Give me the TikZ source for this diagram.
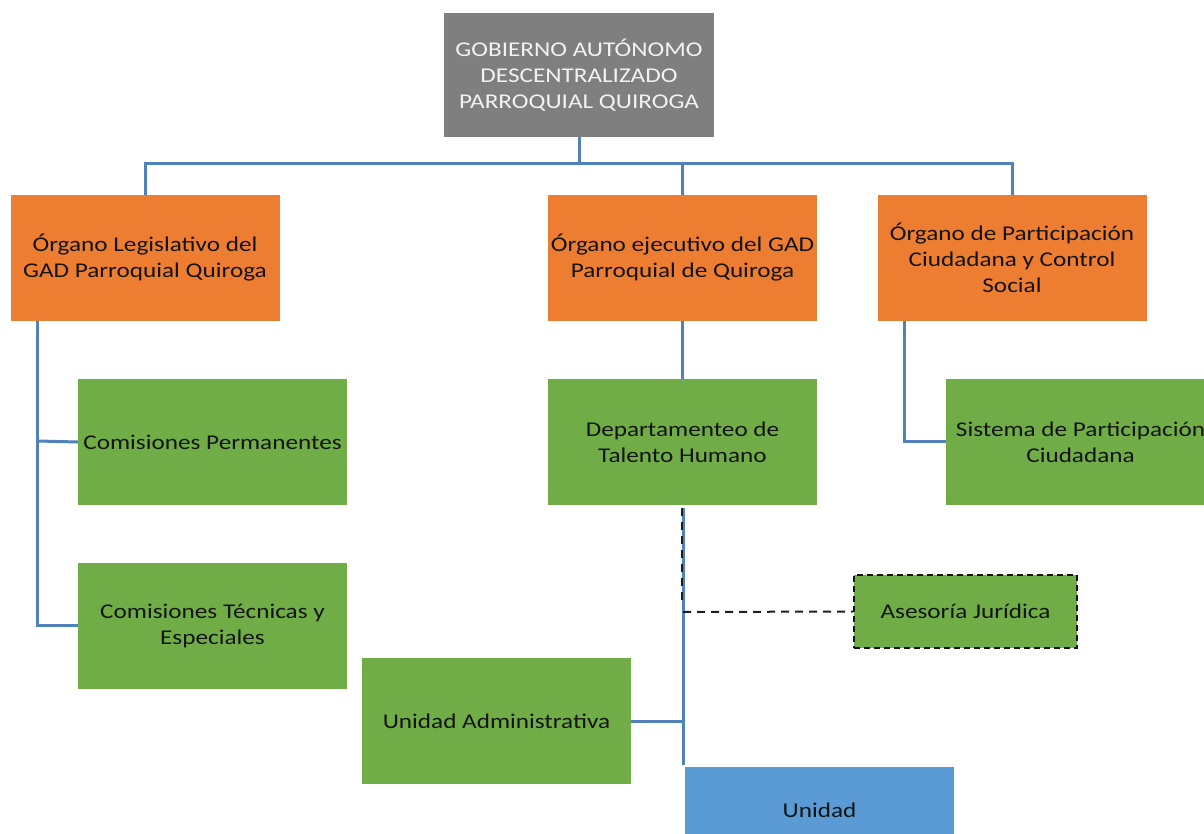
\documentclass[tikz,border=0pt]{standalone}
\usepackage{fontspec}
\setmainfont{Carlito}[FakeStretch=1.2]
\definecolor{cgray}{RGB}{127,127,127}
\definecolor{corange}{RGB}{237,125,49}
\definecolor{cgreen}{RGB}{112,173,71}
\definecolor{cblue}{RGB}{91,155,213}
\definecolor{cline}{RGB}{79,129,189}
\definecolor{ctext}{RGB}{20,20,20}
\begin{document}
\begin{tikzpicture}[x=1pt,y=-1pt,
  box/.style={rectangle,inner sep=0pt,minimum width=269pt,minimum height=126pt,align=center,
    font=\fontsize{21}{26}\selectfont,text=ctext},
  topbox/.style={box,fill=cgray,minimum width=270pt,minimum height=124pt,text={rgb,255:red,242;green,242;blue,242}},
  orbox/.style={box,fill=corange},
  grbox/.style={box,fill=cgreen},
  blbox/.style={box,fill=cblue},
  conn/.style={draw=cline,line width=3pt},
  dconn/.style={draw={rgb,255:red,30;green,30;blue,30},line width=2pt,dash pattern=on 8pt off 6pt}]
\useasboundingbox (0,0) rectangle (1204,834);
\begin{scope}
\clip (0,0) rectangle (1204,834);
\node[topbox] (top) at (579,75) {GOBIERNO AUTÓNOMO\\DESCENTRALIZADO\\PARROQUIAL QUIROGA};
\node[orbox] (leg) at (145,258) {Órgano Legislativo del\\GAD Parroquial Quiroga};
\node[orbox] (eje) at (682.5,258) {Órgano ejecutivo del GAD\\Parroquial de Quiroga};
\node[orbox] (par) at (1012,258) {Órgano de Participación\\Ciudadana y Control\\Social};
\node[grbox] (cper) at (212.5,442) {Comisiones Permanentes};
\node[grbox] (ctec) at (212.5,625.5) {Comisiones Técnicas y\\Especiales};
\node[grbox] (dep) at (682.5,442) {Departamenteo de\\Talento Humano};
\node[grbox] (sis) at (1080.5,442) {Sistema de Participación\\Ciudadana};
\node[grbox,minimum width=223pt,minimum height=73pt,draw={rgb,255:red,20;green,20;blue,20},line width=2pt,dash pattern=on 6pt off 4pt] (ase) at (965.5,611.5) {Asesoría Jurídica};
\node[grbox] (uadm) at (496.5,721) {Unidad Administrativa};
\node[blbox,minimum height=86pt] (uni) at (819.5,810) {Unidad};
\coordinate (hub) at (579,164);
\coordinate (lv) at (37,441);
\coordinate (lb) at (37,625);
\coordinate (rv) at (904,441);
\coordinate (dtop) at (683,508);
\coordinate (dbot) at (683,765);
\coordinate (dase) at (683,612);
\coordinate (dadm) at (683,721);
\draw[conn] (top.south) -- (hub);
\draw[conn] (leg.north) -- (leg.north |- hub) -- (par.north |- hub) -- (par.north);
\draw[conn] (eje.north) -- (eje.north |- hub);
\draw[conn] (37,321) -- (lb) -- (ctec.west |- lb);
\draw[conn] (lv) -- (cper.west);
\draw[conn] (eje.south) -- (dep.north);
\draw[conn] (904,321) -- (rv) -- (sis.west |- rv);
\draw[conn] (dtop) -- (dbot);
\draw[dconn] (681.5,508) -- (681.5,606);
\draw[dconn] (dase) -- (ase.west);
\draw[conn] (uadm.east) -- (dadm);
\end{scope}
\end{tikzpicture}
\end{document}
